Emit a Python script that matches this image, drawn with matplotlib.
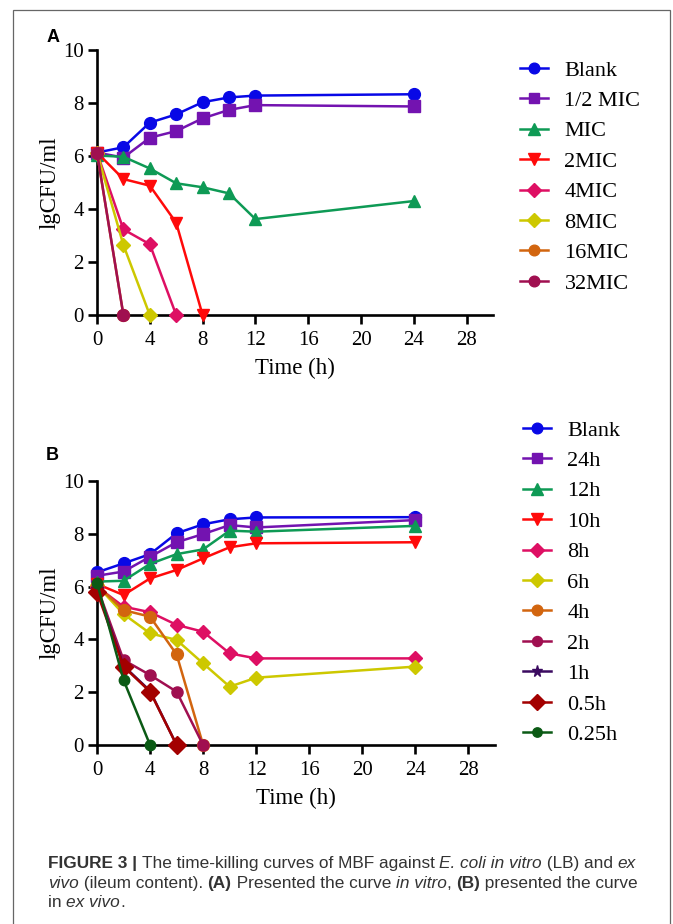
import matplotlib
matplotlib.use("Agg")
import matplotlib.pyplot as plt
from matplotlib.patches import Rectangle

# ---------------- data ----------------
time_a = [0, 2, 4, 6, 8, 10, 12, 24]
labels_a = ["Blank", "1/2 MIC", "MIC", "2MIC", "4MIC", "8MIC", "16MIC", "32MIC"]
blank_a = [6.13, 6.33, 7.26, 7.57, 8.03, 8.21, 8.28, 8.33]
half_mic_a = [6.13, 5.94, 6.69, 6.94, 7.42, 7.74, 7.92, 7.87]
mic_a = [6.02, 5.97, 5.53, 4.97, 4.82, 4.59, 3.62, 4.30]
mic2_a = [6.13, 5.13, 4.88, 3.48, 0.0]
mic4_a = [6.13, 3.23, 2.67, 0.0]
mic8_a = [6.13, 2.64, 0.0]
mic16_a = [6.13, 0.0]
mic32_a = [6.13, 0.0]

time_b = [0, 2, 4, 6, 8, 10, 12, 24]
labels_b = ["Blank", "24h", "12h", "10h", "8h", "6h", "4h", "2h", "1h", "0.5h", "0.25h"]
blank_b = [6.54, 6.88, 7.23, 8.02, 8.36, 8.55, 8.62, 8.63]
h24_b = [6.41, 6.57, 7.13, 7.68, 7.99, 8.33, 8.24, 8.52]
h12_b = [6.19, 6.22, 6.86, 7.23, 7.41, 8.12, 8.08, 8.30]
h10_b = [6.10, 5.68, 6.31, 6.63, 7.07, 7.49, 7.64, 7.68]
h8_b = [6.00, 5.24, 5.03, 4.55, 4.29, 3.47, 3.28, 3.28]
h6_b = [6.05, 4.96, 4.23, 3.98, 3.09, 2.21, 2.55, 2.97]
h4_b = [6.05, 5.11, 4.86, 3.43, 0.0]
h2_b = [6.00, 3.22, 2.65, 2.02, 0.0]
h1_b = [5.90, 3.00, 2.05, 0.0]
h05_b = [5.80, 2.97, 2.02, 0.0]
h025_b = [6.15, 2.46, 0.0]

x_ticks = [0, 4, 8, 12, 16, 20, 24, 28]
y_ticks = [0, 2, 4, 6, 8, 10]

# ---------------- styles ----------------
styles_a = [
    ("#0808E6", "o", 8.5), ("#7313B0", "s", 8.5), ("#0E9A55", "^", 9),
    ("#FF0A0A", "v", 9), ("#DE0F63", "D", 7.5), ("#CDC800", "D", 7.5),
    ("#D2650F", "o", 8.5), ("#A00F50", "o", 8.5),
]
styles_b = [
    ("#0808E6", "o", 8.5), ("#7313B0", "s", 8.5), ("#0E9A55", "^", 9),
    ("#FF0A0A", "v", 9), ("#DE0F63", "D", 7.5), ("#CDC800", "D", 7.5),
    ("#D2650F", "o", 8.5), ("#A00F50", "o", 8), ("#3B0A60", "*", 9),
    ("#A30000", "D", 9.5), ("#0B5A15", "o", 7.5),
]

serif = ["Liberation Serif", "DejaVu Serif"]
W, H = 673, 924
fig = plt.figure(figsize=(W / 100, H / 100), dpi=100)

def px_axes(left, top, right, bottom):
    return fig.add_axes([left / W, 1 - bottom / H, (right - left) / W, (bottom - top) / H])

def style_axes(ax):
    ax.set_xlim(0, 30)
    ax.set_ylim(0, 10)
    ax.set_xticks(x_ticks)
    ax.set_yticks(y_ticks)
    for s in ["top", "right"]:
        ax.spines[s].set_visible(False)
    for s in ["left", "bottom"]:
        ax.spines[s].set_linewidth(1.9)
    ax.tick_params(direction="out", length=6.5, width=1.9, labelsize=15, pad=3)
    ax.tick_params(axis="x", pad=5)
    for lab in ax.get_xticklabels() + ax.get_yticklabels():
        lab.set_family(serif)
    ax.set_xlabel("Time (h)", fontsize=16.5, family=serif, labelpad=6)
    ax.set_ylabel("lgCFU/ml", fontsize=16.5, family=serif, labelpad=2)
    ax.patch.set_alpha(0)

def plot_series(ax, t, series, labels, styles):
    handles = []
    for ys, lab, (c, m, ms) in zip(series, labels, styles):
        h, = ax.plot(t[:len(ys)], ys, color=c, marker=m, markersize=ms, lw=1.8,
                     markeredgecolor=c, label=lab, clip_on=False, zorder=3)
        handles.append(h)
    return handles

leg_kw = dict(loc="upper left", frameon=False, prop={"family": serif, "size": 16},
              handlelength=1.25, handletextpad=0.75, labelspacing=0.445, markerscale=0.9,
              borderaxespad=0, borderpad=0)

# ---------- panel A ----------
axA = px_axes(97, 50, 493, 315)
style_axes(axA)
series_a = [blank_a, half_mic_a, mic_a, mic2_a, mic4_a, mic8_a, mic16_a, mic32_a]
hA = plot_series(axA, time_a, series_a, labels_a, styles_a)
fig.legend(handles=hA, bbox_to_anchor=(520 / W, 1 - 60 / H), **leg_kw)

# ---------- panel B ----------
axB = px_axes(97, 481, 495, 745)
style_axes(axB)
series_b = [blank_b, h24_b, h12_b, h10_b, h8_b, h6_b, h4_b, h2_b, h1_b, h05_b, h025_b]
hB = plot_series(axB, time_b, series_b, labels_b, styles_b)
fig.legend(handles=hB, bbox_to_anchor=(523 / W, 1 - 420 / H), **leg_kw)

# panel letters
fig.text(53 / W, 1 - 37 / H, "A", fontsize=13, fontweight="bold", family=["Liberation Sans", "DejaVu Sans"],
         ha="center", va="center")
fig.text(52 / W, 1 - 455 / H, "B", fontsize=13, fontweight="bold", family=["Liberation Sans", "DejaVu Sans"],
         ha="center", va="center")

# frame
fig.add_artist(Rectangle((13 / W, -0.05), (670 - 13) / W, 1.05 - 10 / H, transform=fig.transFigure,
                         fill=False, edgecolor="#666666", lw=0.9))

# ---------- caption ----------
cap_font = ["Liberation Sans Narrow", "Liberation Sans", "DejaVu Sans"]
cap_size = 12.45
lines = [
    [("FIGURE 3 | ", "bold", "normal"), ("The time-killing curves of MBF against ", "normal", "normal"),
     ("E. coli in vitro", "normal", "italic"), (" (LB) and ", "normal", "normal"), ("ex", "normal", "italic")],
    [("vivo", "normal", "italic"), (" (ileum content). ", "normal", "normal"), ("(A)", "bold", "normal"),
     (" Presented the curve ", "normal", "normal"), ("in vitro", "normal", "italic"), (", ", "normal", "normal"),
     ("(B)", "bold", "normal"), (" presented the curve", "normal", "normal")],
    [("in ", "normal", "normal"), ("ex vivo", "normal", "italic"), (".", "normal", "normal")],
]
line_base = [868, 888, 907]
renderer = fig.canvas.get_renderer()
for parts, y in zip(lines, line_base):
    x = 48
    for txt, wt, st in parts:
        t = fig.text(x / W, 1 - y / H, txt, fontsize=cap_size, fontweight=wt, fontstyle=st,
                     family=cap_font, color="#333333", va="baseline", ha="left")
        bb = t.get_window_extent(renderer)
        x += bb.width

fig.savefig("out.png", dpi=100)
